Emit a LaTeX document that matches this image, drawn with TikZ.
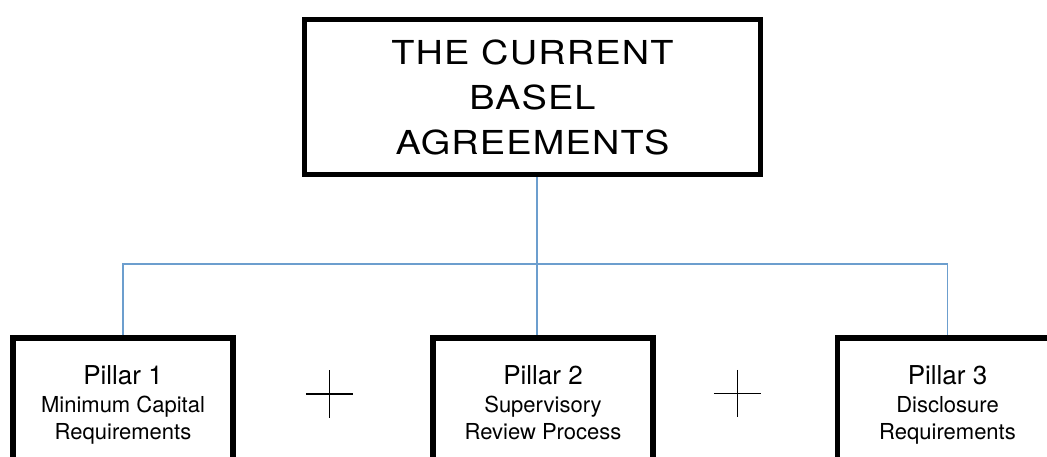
\documentclass[tikz,border=0pt]{standalone}
\usepackage{fontspec}
\setmainfont{TeX Gyre Heros}
\newfontfamily\titlefont[FakeStretch=1.15, LetterSpace=3.5]{TeX Gyre Heros}
\definecolor{linkblue}{RGB}{108,158,206}

\begin{document}
\begin{tikzpicture}[x=1pt, y=-1pt]
	\tikzstyle{every node}=[inner sep=0pt, align=center]
	\tikzstyle{box}=[draw, line width=5.5pt, minimum width=220pt]
	\tikzstyle{pillar}=[box, minimum height=134pt, text depth=4.6pt, font=\fontsize{22}{27.5}\selectfont]
	\tikzstyle{link}=[draw=linkblue, line width=1.5pt]
	\tikzstyle{plus}=[minimum size=47pt]
	\useasboundingbox (0, 0) rectangle (1047, 456);
	\node [box, minimum width=456pt, minimum height=155pt, font=\titlefont\fontsize{33}{45}\selectfont] (Basel) at (532.5, 97) {THE CURRENT\\BASEL\\AGREEMENTS};
	\node [pillar] (P1) at (123, 405) {{\fontsize{26}{28}\selectfont Pillar 1}\\Minimum Capital\\Requirements};
	\node [pillar] (P2) at (543, 405) {{\fontsize{26}{28}\selectfont Pillar 2}\\Supervisory\\Review Process};
	\node [pillar] (P3) at (947.5, 405) {{\fontsize{26}{28}\selectfont Pillar 3}\\Disclosure\\Requirements};
	\coordinate (hub) at (537, 264);
	\draw [link] (Basel.south -| hub) -- (hub);
	\draw [link] (P1.north) |- (hub) -| (P3.north);
	\draw [link] (hub) -- (hub |- P2.north);
	\node [plus] (plusA) at (329.5, 394) {};
	\node [plus] (plusB) at (737.5, 393.5) {};
	\draw [line width=1.5pt] (plusA.west) -- (plusA.east) (plusA.north) -- (plusA.south);
	\draw [line width=1.5pt] (plusB.west) -- (plusB.east) (plusB.north) -- (plusB.south);
\end{tikzpicture}
\end{document}
